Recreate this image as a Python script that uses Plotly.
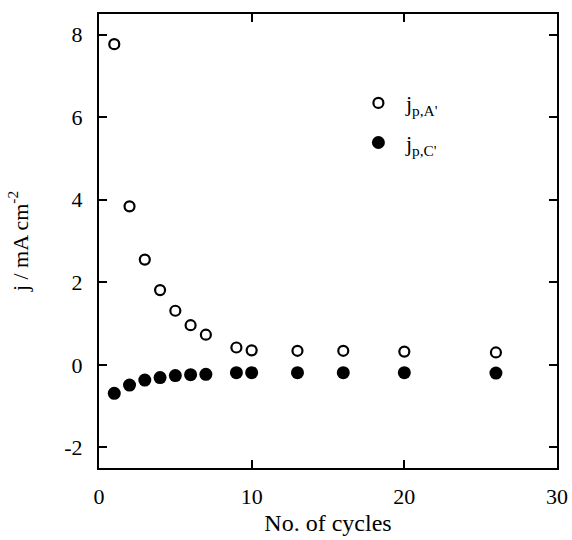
import plotly.graph_objects as go

# Cycle number and peak current densities (mA cm^-2)
cycles = [1, 2, 3, 4, 5, 6, 7, 9, 10, 13, 16, 20, 26]
j_anodic = [7.77, 3.84, 2.55, 1.81, 1.31, 0.96, 0.73, 0.42, 0.35, 0.34, 0.34, 0.32, 0.30]
j_cathodic = [-0.69, -0.49, -0.37, -0.31, -0.26, -0.24, -0.23, -0.19, -0.19, -0.19, -0.19, -0.19, -0.20]

x_ticks = [0, 10, 20, 30]
y_ticks = [-2, 0, 2, 4, 6, 8]
y_tick_text = ["-2", "0", "2", "4", "6", "8"]

FONT = "Liberation Serif"

fig = go.Figure()
fig.add_trace(go.Scatter(
    x=cycles, y=j_anodic, mode="markers",
    name="j<sub>p,A'</sub>", legendgroup="a",
    marker=dict(symbol="circle-open", size=10, color="black", line=dict(width=2.2, color="black")),
))
fig.add_trace(go.Scatter(
    x=cycles, y=j_cathodic, mode="markers",
    name="j<sub>p,C'</sub>", legendgroup="c",
    marker=dict(symbol="circle", size=13, color="black"),
))

axis_common = dict(
    showline=True, linecolor="black", linewidth=2, mirror="ticks",
    ticks="inside", ticklen=8, tickwidth=1.5, tickcolor="black",
    showgrid=False, zeroline=False, automargin=False,
    tickfont=dict(family=FONT, size=22, color="black"),
)

fig.update_layout(
    width=572, height=540,
    margin=dict(l=99, r=15, t=14, b=72),
    paper_bgcolor="white", plot_bgcolor="white",
    font=dict(family=FONT, color="black"),
    xaxis=dict(
        range=[0, 30], tickvals=x_ticks, ticklabelstandoff=8,
        title=dict(text="No. of cycles", font=dict(family=FONT, size=24), standoff=6),
        **axis_common,
    ),
    yaxis=dict(
        range=[-2.5, 8.5], tickvals=y_ticks, ticktext=y_tick_text, ticklabelstandoff=10,
        title=dict(text="j / mA cm<sup>-2</sup>", font=dict(family=FONT, size=22), standoff=30),
        **axis_common,
    ),
    showlegend=True,
    legend=dict(
        x=0.55, y=0.85, xanchor="left", yanchor="top",
        bgcolor="rgba(0,0,0,0)", borderwidth=0,
        font=dict(family=FONT, size=22, color="black"),
        tracegroupgap=8, itemwidth=45,
    ),
)

fig.write_html("out.html")
